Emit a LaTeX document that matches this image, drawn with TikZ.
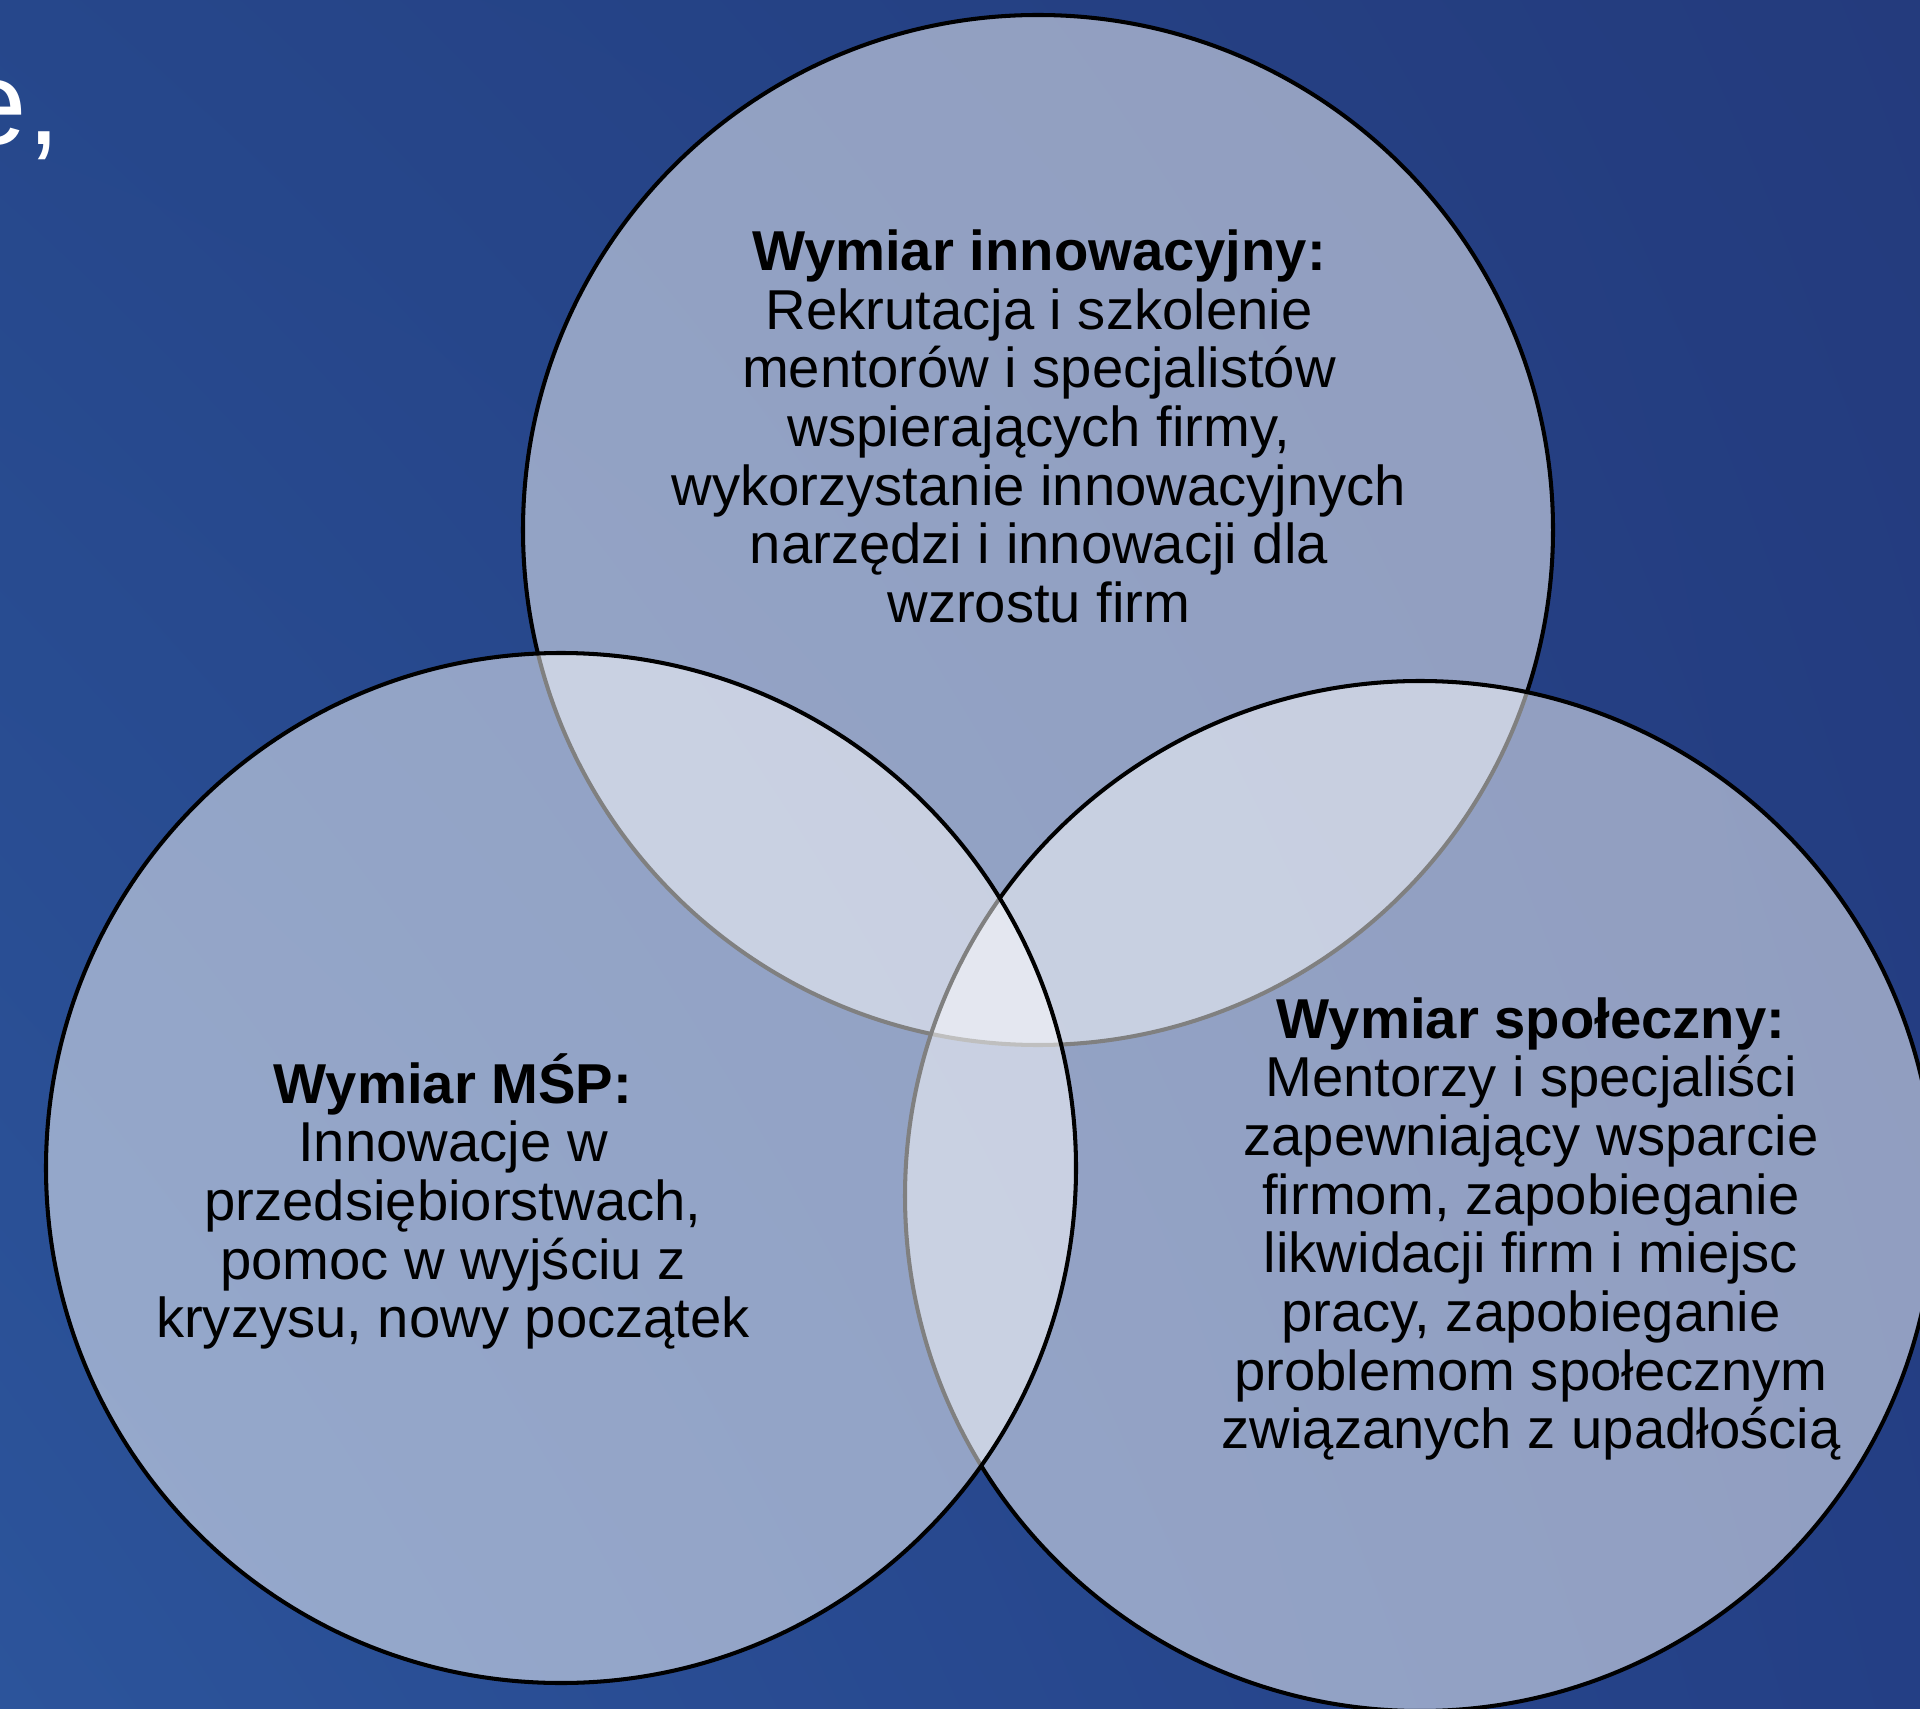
\documentclass[tikz,border=0pt]{standalone}
\usepackage{fontspec}
\setmainfont{Liberation Sans}
\usetikzlibrary{calc,positioning,shadings}
\definecolor{bgTL}{RGB}{38,71,139}
\definecolor{bgTR}{RGB}{36,59,125}
\definecolor{bgBL}{RGB}{44,84,155}
\definecolor{bgBR}{RGB}{36,63,133}
\tikzset{
  venn/.style={fill=white, fill opacity=0.5, draw=black, line width=1.15pt},
  vtext/.style={align=center, inner sep=0pt, font=\fontsize{16}{16.7}\selectfont}
}
\begin{document}
\begin{tikzpicture}
\pgfmathsetmacro{\cR}{5.15}
\pgfmathsetmacro{\W}{19.2}
\pgfmathsetmacro{\H}{17.08}

\useasboundingbox (0,0) rectangle (\W,\H);
\clip (0,0) rectangle (\W,\H);
\shade[upper left=bgTL, upper right=bgTR, lower left=bgBL, lower right=bgBR]
  (0,0) rectangle (\W,\H);

% end of the slide title, cut by the page edge
\node[white, anchor=base west, inner sep=0pt, font=\fontsize{34}{40}\selectfont] (head) at (-0.40,15.63) {e,};

\coordinate (inno) at (10.38,11.78);
\coordinate (msp) at (5.61,5.40);
\coordinate (spol) at (14.20,5.12);

% order matters: later outlines stay black
\draw[venn] (inno) circle[radius=\cR cm];
\draw[venn] (spol) circle[radius=\cR cm];
\draw[venn] (msp) circle[radius=\cR cm];

\node[vtext] (innoText) at (10.39,12.815) {\textbf{Wymiar innowacyjny:}\\
Rekrutacja i szkolenie\\
mentorów i specjalistów\\
wspierających firmy,\\
wykorzystanie innowacyjnych\\
narzędzi i innowacji dla\\
wzrostu firm};

\node[vtext] (mspText) at (4.53,5.065) {\textbf{Wymiar MŚP:}\\
Innowacje w\\
przedsiębiorstwach,\\
pomoc w wyjściu z\\
kryzysu, nowy początek};

\node[vtext] (spolText) at (15.31,4.79) {\textbf{Wymiar społeczny:}\\
Mentorzy i specjaliści\\
zapewniający wsparcie\\
firmom, zapobieganie\\
likwidacji firm i miejsc\\
pracy, zapobieganie\\
problemom społecznym\\
związanych z upadłością};
\end{tikzpicture}
\end{document}
